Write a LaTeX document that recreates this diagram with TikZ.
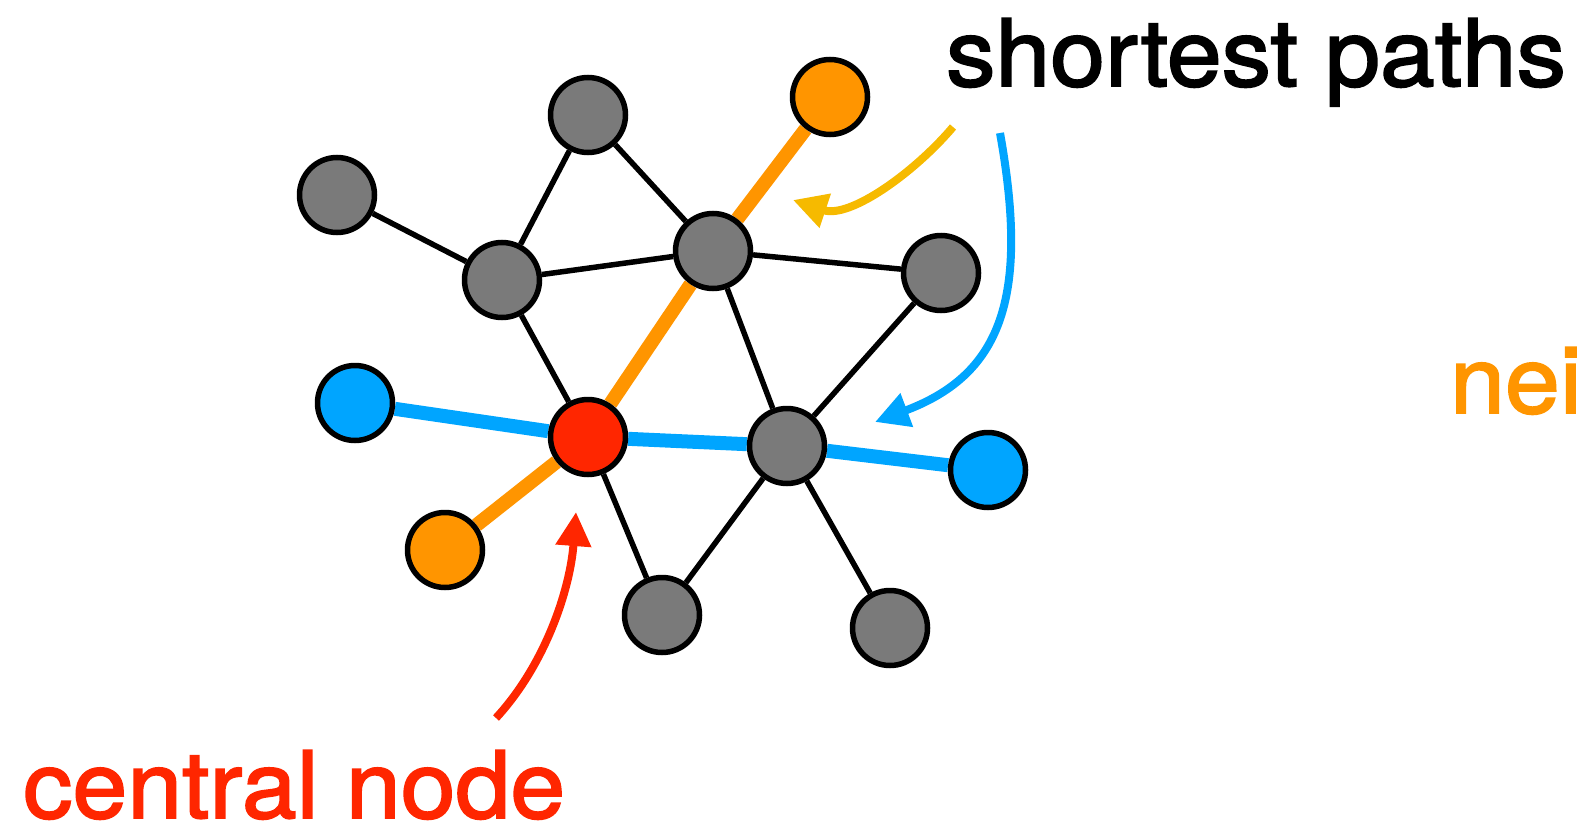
\documentclass[tikz,border=0pt]{standalone}
\usepackage{fontspec}
\setmainfont{TeX Gyre Heros}[FakeBold=2, FakeStretch=1.06]
\usetikzlibrary{arrows.meta}
\pgfdeclarelayer{edges}
\pgfsetlayers{edges,main}

\definecolor{nodegray}{RGB}{122,122,122}
\definecolor{pathorange}{RGB}{255,149,0}
\definecolor{pathblue}{RGB}{0,165,255}
\definecolor{centerred}{RGB}{255,38,0}
\definecolor{hintyellow}{RGB}{246,186,0}

\tikzset{
  vertex/.style={circle, draw=black, line width=5.5pt, minimum size=75pt, inner sep=0pt},
  plain/.style={vertex, fill=nodegray},
  orangev/.style={vertex, fill=pathorange},
  bluev/.style={vertex, fill=pathblue},
  redv/.style={vertex, fill=centerred},
  link/.style={draw=black, line width=5.5pt},
  olink/.style={draw=pathorange, line width=14pt},
  blink/.style={draw=pathblue, line width=14pt},
  pointer/.style={line width=8pt, -{Triangle[length=34pt,width=34pt]}},
  label/.style={inner sep=0pt, anchor=base west, font=\fontsize{93}{100}\selectfont}
}

\begin{document}
\begin{tikzpicture}[x=1pt, y=-1pt]
\useasboundingbox (0,0) rectangle (1582,827);

% vertices
\node[plain]   (gl)  at (337,195) {};
\node[plain]   (gt)  at (588,115) {};
\node[orangev] (ot)  at (830,97)  {};
\node[plain]   (ga)  at (502,280) {};
\node[plain]   (gb)  at (713,251) {};
\node[plain]   (gc)  at (941,273) {};
\node[bluev]   (bl)  at (355,403) {};
\node[redv]    (ctr) at (588,437) {};
\node[plain]   (gd)  at (787,446) {};
\node[bluev]   (br)  at (988,470) {};
\node[orangev] (ob)  at (445,550) {};
\node[plain]   (g1)  at (662,615) {};
\node[plain]   (g2)  at (890,628) {};

% edges
\begin{pgfonlayer}{edges}
\draw[link] (gl) -- (ga);
\draw[link] (gt) -- (ga);
\draw[link] (gt) -- (gb);
\draw[link] (ga) -- (gb);
\draw[link] (gb) -- (gc);
\draw[link] (ga) -- (ctr);
\draw[link] (gb) -- (gd);
\draw[link] (gc) -- (gd);
\draw[link] (ctr) -- (g1);
\draw[link] (gd) -- (g1);
\draw[link] (gd) -- (g2);
\draw[olink] (ot) -- (gb);
\draw[olink] (gb) -- (ctr);
\draw[olink] (ctr) -- (ob);
\draw[blink] (bl) -- (ctr);
\draw[blink] (ctr) -- (gd);
\draw[blink] (gd) -- (br);
\end{pgfonlayer}

% labels
\node[label, text=black] (sp) at (946,86) {shortest paths};
\node[label, text=pathorange] (nb) at (1450,413) {nei};
\node[label, text=centerred] (cn) at (23,818) {central node};

% pointers
\coordinate (ys) at (953,127);
\coordinate (yt) at (793,200);
\draw[pointer, draw=hintyellow] (ys) .. controls (915,172) and (850,219) .. (yt);
\coordinate (bs) at (1000,133);
\coordinate (bt) at (875,422);
\draw[pointer, draw=pathblue] (bs) .. controls (1030,300) and (1000,375) .. (bt);
\coordinate (rs) at (496,718);
\coordinate (rt) at (576,512);
\draw[pointer, draw=centerred] (rs) .. controls (545,665) and (570,590) .. (rt);
\end{tikzpicture}
\end{document}
